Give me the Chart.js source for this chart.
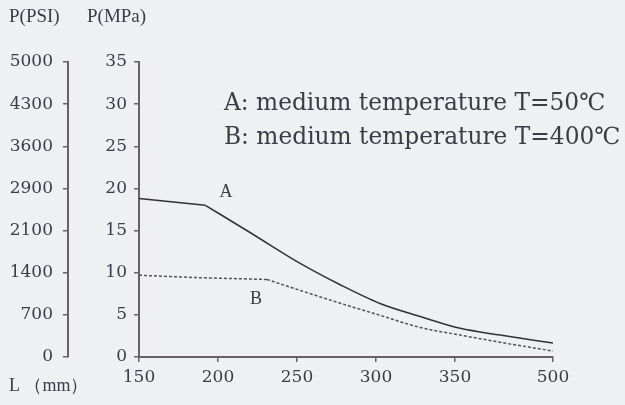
<!DOCTYPE html>
<html>
<head>
<meta charset="utf-8">
<script src="https://cdn.jsdelivr.net/npm/chart.js@4"></script>
<style>
html,body{margin:0;padding:0;background:#eef0f2;}
#wrap{position:relative;width:625px;height:405px;}
canvas{display:block;}
</style>
</head>
<body>
<div id="wrap"><canvas id="c" width="625" height="405"></canvas></div>
<script>
// ---- data ----
const xTickLabels = [150, 200, 250, 300, 350, 500];
const mpaTicks = [0, 5, 10, 15, 20, 25, 30, 35];
const psiTickLabels = [0, 700, 1400, 2100, 2900, 3600, 4300, 5000];
// curve A (T=50°C)
const lenA = [150, 192, 220, 252, 277, 302.5, 328, 358, 419, 500];
const presA = [18.8, 18.0, 14.8, 11.1, 8.6, 6.35, 4.8, 3.4, 2.6, 1.65];
const kinkA = 1;
// curve B (T=400°C)
const lenB = [150, 189, 231, 252, 277, 302.5, 328, 358, 419, 500];
const presB = [9.7, 9.4, 9.2, 7.9, 6.4, 4.95, 3.5, 2.6, 1.75, 0.7];
const kinkB = 2;
const legendA = 'A: medium temperature T=50℃';
const legendB = 'B: medium temperature T=400℃';

// x axis is broken after 350: the 350..500 stretch is drawn compressed
const breakStart = 350, breakEndAxis = 412;
function toAxis(L){ return L <= breakStart ? L : breakStart + (L - breakStart) * (breakEndAxis - breakStart) / (500 - breakStart); }
function pts(lens, vals, from, to){ return lens.slice(from, to).map((L, i) => ({x: toAxis(L), y: vals[from + i]})); }

const ink = '#3c3c48';
const axisCol = '#6a6262';
const colA = '#333038', colB = '#55505a';
const tickFont = {family: 'DejaVu Serif', size: 17};

const overlay = {
  id: 'overlay',
  afterDraw(chart){
    const ctx = chart.ctx;
    const xs = chart.scales.x, ys = chart.scales.y;
    ctx.save();
    ctx.fillStyle = ink;
    ctx.textBaseline = 'middle';
    ctx.textAlign = 'left';
    ctx.font = '19px "Liberation Serif"';
    ctx.fillText('P(PSI)', 9, 17);
    ctx.fillText('P(MPa)', 87, 17);
    ctx.font = '18px "Liberation Serif"';
    ctx.fillText('L （mm）', 9, 386);
    ctx.font = '23.3px "DejaVu Serif"';
    ctx.fillText(legendA, 224, 104);
    ctx.fillText(legendB, 224, 138);
    ctx.font = '18px "Liberation Serif"';
    ctx.textAlign = 'center';
    ctx.fillText('A', xs.getPixelForValue(toAxis(205)), ys.getPixelForValue(19.6));
    ctx.fillText('B', xs.getPixelForValue(toAxis(224)), ys.getPixelForValue(6.9));
    ctx.restore();
  }
};

const base = {pointRadius: 0, fill: false, borderWidth: 1.5};
new Chart(document.getElementById('c'), {
  type: 'line',
  data: {
    datasets: [
      Object.assign({data: pts(lenA, presA, 0, kinkA + 1), borderColor: colA, tension: 0}, base),
      Object.assign({data: pts(lenA, presA, kinkA, lenA.length), borderColor: colA, cubicInterpolationMode: 'monotone'}, base),
      Object.assign({data: pts(lenB, presB, 0, kinkB + 1), borderColor: colB, borderDash: [3, 2], tension: 0}, base),
      Object.assign({data: pts(lenB, presB, kinkB, lenB.length), borderColor: colB, borderDash: [3, 2], cubicInterpolationMode: 'monotone'}, base)
    ]
  },
  options: {
    responsive: false,
    animation: false,
    events: [],
    layout: {padding: {left: 8, right: 72, top: 62, bottom: 0}},
    plugins: {legend: {display: false}, tooltip: {enabled: false}},
    scales: {
      x: {
        type: 'linear', min: 150, max: breakEndAxis,
        afterBuildTicks: s => { s.ticks = xTickLabels.map(v => ({value: toAxis(v)})); },
        afterFit: s => { s.height = 48; },
        ticks: {font: tickFont, color: ink, padding: 5, maxRotation: 0,
          callback: (v, i) => xTickLabels[i]},
        grid: {drawOnChartArea: false, drawTicks: true, tickLength: 5, color: axisCol, lineWidth: 1.5},
        border: {display: true, color: axisCol, width: 2}
      },
      y: {
        type: 'linear', position: 'left', min: 0, max: 35,
        afterBuildTicks: s => { s.ticks = mpaTicks.map(v => ({value: v})); },
        afterFit: s => { s.width = 71; },
        ticks: {font: tickFont, color: ink, padding: 7},
        grid: {drawOnChartArea: false, drawTicks: true, tickLength: 5, color: axisCol, lineWidth: 1.5},
        border: {display: true, color: axisCol, width: 2}
      },
      y2: {
        type: 'linear', position: 'left', min: 0, max: 35,
        afterBuildTicks: s => { s.ticks = mpaTicks.map(v => ({value: v})); },
        afterFit: s => { s.width = 60; },
        ticks: {font: tickFont, color: ink, padding: 10, callback: (v, i) => psiTickLabels[i]},
        grid: {drawOnChartArea: false, drawTicks: true, tickLength: 5, color: axisCol, lineWidth: 1.5},
        border: {display: true, color: axisCol, width: 2}
      }
    }
  },
  plugins: [overlay]
});
</script>
</body>
</html>
